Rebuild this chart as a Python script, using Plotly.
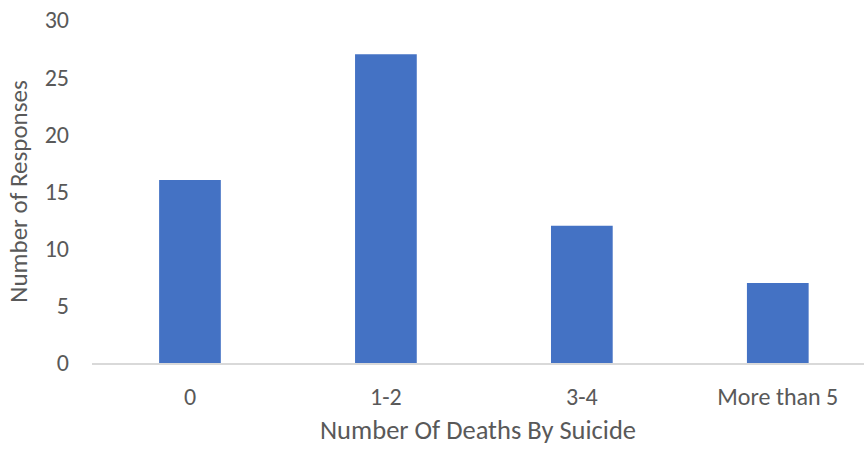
import plotly.graph_objects as go

categories = ["0", "1-2", "3-4", "More than 5"]
responses = [16, 27, 12, 7]
y_ticks = [0, 5, 10, 15, 20, 25, 30]

FONT = "Calibri, Carlito, Lato, sans-serif"
GREY = "#595959"

fig = go.Figure(go.Bar(x=categories, y=responses, marker_color="#4472C4",
                       marker_line_width=0))
fig.update_layout(
    width=864, height=449,
    margin=dict(l=92, r=0, t=20, b=86),
    paper_bgcolor="white", plot_bgcolor="white",
    bargap=0.685,
    showlegend=False,
    font=dict(family=FONT, color=GREY, size=24),
)
fig.update_xaxes(
    type="category", range=[-0.5, 3.44],
    showline=True, linecolor="#D9D9D9", linewidth=1.5,
    showgrid=False, ticks="", ticklabelstandoff=11,
    tickfont=dict(size=24, color=GREY, family=FONT),
    title=dict(text="Number Of Deaths By Suicide", standoff=11,
               font=dict(size=26.5, color=GREY, family=FONT)),
)
fig.update_yaxes(
    range=[0, 30], tickvals=y_ticks, showgrid=False, zeroline=False,
    showline=False, ticks="", ticklabelstandoff=22,
    tickfont=dict(size=24, color=GREY, family=FONT),
    title=dict(text="Number of Responses", standoff=9,
               font=dict(size=25, color=GREY, family=FONT)),
)
fig.write_html("out.html")
